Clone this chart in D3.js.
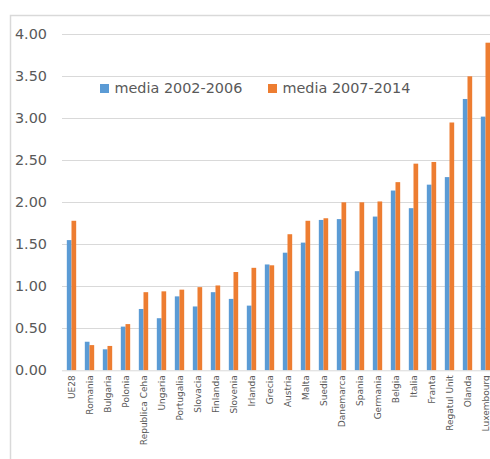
<!DOCTYPE html>
<html>
<head>
<meta charset="utf-8">
<script src="https://cdn.jsdelivr.net/npm/d3@7"></script>
<style>
html,body{margin:0;padding:0;background:#fff;}
svg{display:block;}
</style>
</head>
<body>
<div id="chart"></div>
<script>
const categories = ["UE28","Romania","Bulgaria","Polonia","Republica Ceha","Ungaria","Portugalia","Slovacia","Finlanda","Slovenia","Irlanda","Grecia","Austria","Malta","Suedia","Danemarca","Spania","Germania","Belgia","Italia","Franta","Regatul Unit","Olanda","Luxembourg"];
const seriesNames = ["media 2002-2006","media 2007-2014"];
const media2002_2006 = [1.55,0.34,0.25,0.52,0.73,0.62,0.88,0.76,0.93,0.85,0.77,1.26,1.40,1.52,1.79,1.80,1.18,1.83,2.14,1.93,2.21,2.30,3.23,3.02];
const media2007_2014 = [1.78,0.30,0.29,0.55,0.93,0.94,0.96,0.99,1.01,1.17,1.22,1.25,1.62,1.78,1.81,2.00,2.00,2.01,2.24,2.46,2.48,2.95,3.50,3.90];
const yTicks = [0,0.5,1,1.5,2,2.5,3,3.5,4];
const colors = ["#5B9BD5","#ED7D31"];

const W = 490, H = 459;
const svg = d3.select("#chart").append("svg").attr("width", W).attr("height", H);
svg.append("rect").attr("width", W).attr("height", H).attr("fill", "#fff");

// frame
svg.append("rect").attr("x", 10.5).attr("y", 15.5).attr("width", 520).attr("height", 480)
  .attr("fill", "none").attr("stroke", "#d9d9d9").attr("stroke-width", 1.5);

const left = 62.5, step = 18;
const x0 = d3.scaleBand().domain(categories).range([left, left + categories.length * step])
  .paddingInner(0.48).paddingOuter(0.24);
const x1 = d3.scaleBand().domain([0,1]).range([0, x0.bandwidth()]);
const y = d3.scaleLinear().domain([0,4]).range([370.3, 34.3]);

// gridlines
svg.append("g").selectAll("line").data(yTicks.filter(d => d > 0)).join("line")
  .attr("x1", 62).attr("x2", W).attr("y1", d => Math.round(y(d)) + 0.5).attr("y2", d => Math.round(y(d)) + 0.5)
  .attr("stroke", "#d9d9d9").attr("stroke-width", 1);

// y axis labels
const yAxis = d3.axisLeft(y).tickValues(yTicks).tickFormat(d3.format(".2f")).tickSize(0).tickPadding(0);
const gy = svg.append("g").attr("transform", "translate(47,0)").call(yAxis);
gy.select(".domain").remove();
gy.selectAll("text").attr("font-family", "DejaVu Sans").attr("font-size", "14.4px").attr("fill", "#595959");

// bars
const data = [media2002_2006, media2007_2014];
const groups = svg.append("g").selectAll("g").data(categories).join("g")
  .attr("transform", d => `translate(${x0(d)},0)`);
groups.selectAll("rect").data((d, i) => data.map((s, k) => ({k, v: s[i]}))).join("rect")
  .attr("x", d => x1(d.k)).attr("width", x1.bandwidth())
  .attr("y", d => y(d.v)).attr("height", d => y(0) - y(d.v))
  .attr("fill", d => colors[d.k]);

// x axis
const xAxis = d3.axisBottom(x0).tickSize(0).tickPadding(0);
const gx = svg.append("g").attr("transform", `translate(0,${y(0)})`).call(xAxis);
gx.select(".domain").attr("d", `M62,0.5H${W}`).attr("stroke", "#d9d9d9").attr("stroke-width", 1);
gx.selectAll("text")
  .attr("font-family", "DejaVu Sans").attr("font-size", "9px").attr("fill", "#595959")
  .attr("text-anchor", "end").attr("transform", "rotate(-90)")
  .attr("x", -5).attr("y", 0).attr("dy", "0.35em");

// legend
const legend = svg.append("g");
const lx = [100, 268];
seriesNames.forEach((name, k) => {
  legend.append("rect").attr("x", lx[k]).attr("y", 84).attr("width", 9).attr("height", 9).attr("fill", colors[k]);
  legend.append("text").attr("x", lx[k] + 14.5).attr("y", 93)
    .attr("font-family", "DejaVu Sans").attr("font-size", "14.4px").attr("fill", "#595959").text(name);
});
</script>
</body>
</html>
